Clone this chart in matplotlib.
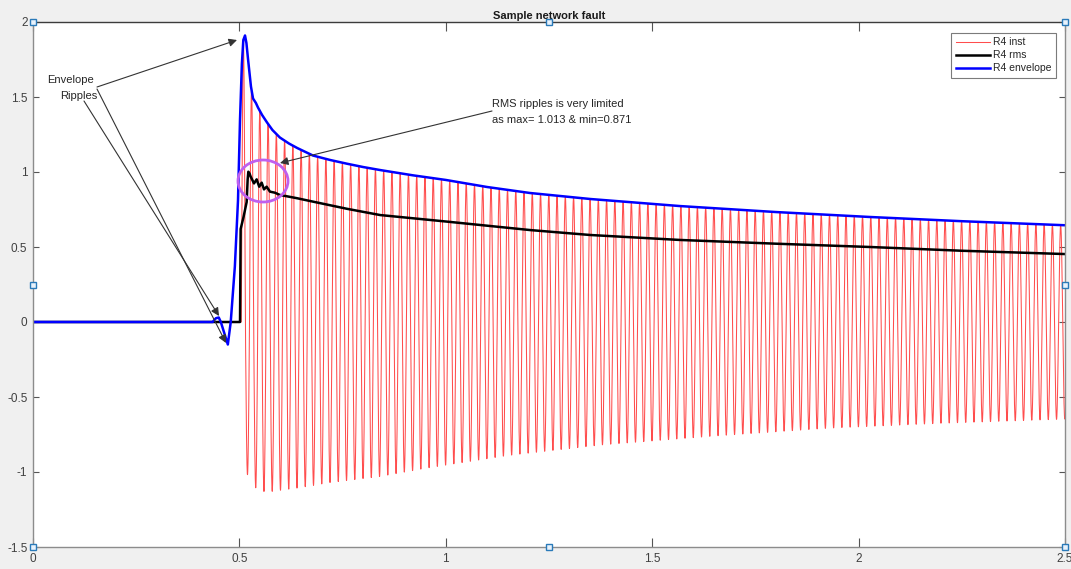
import numpy as np
import matplotlib
matplotlib.use("Agg")
import matplotlib.pyplot as plt
from matplotlib.patches import Ellipse

plt.rcParams['font.family'] = ['Liberation Sans', 'DejaVu Sans']

# ---------------- data ----------------
TITLE = "Sample network fault"
SERIES_LABELS = ["R4 inst", "R4 rms", "R4 envelope"]

# envelope (blue)
env_t = [0.0, 0.435, 0.443, 0.450, 0.455, 0.472, 0.479, 0.489, 0.4966, 0.5015,
         0.506, 0.5095, 0.5136, 0.517, 0.521, 0.528, 0.533, 0.540, 0.545, 0.555,
         0.567, 0.580, 0.598, 0.620, 0.640, 0.678, 0.72, 0.761, 0.80, 0.841,
         0.92, 1.0, 1.1, 1.204, 1.35, 1.567, 1.8, 2.028, 2.25, 2.5]
env_v = [0.0, 0.0, 0.025, 0.03, 0.0, -0.15, 0.0, 0.37, 0.81, 1.35,
         1.72, 1.88, 1.91, 1.86, 1.75, 1.57, 1.49, 1.46, 1.43, 1.38,
         1.33, 1.28, 1.23, 1.19, 1.16, 1.11, 1.08, 1.055, 1.033, 1.013,
         0.978, 0.947, 0.90, 0.86, 0.82, 0.773, 0.733, 0.70, 0.672, 0.645]

# rms (black)
rms_t = [0.0, 0.5015, 0.503, 0.510, 0.5176, 0.520, 0.5216, 0.5245, 0.5273, 0.5354,
         0.5418, 0.548, 0.554, 0.5596, 0.566, 0.574, 0.586, 0.598, 0.64, 0.679,
         0.76, 0.841, 1.0, 1.204, 1.35, 1.567, 1.8, 2.028, 2.25, 2.5]
rms_v = [0.0, 0.0, 0.62, 0.70, 0.80, 0.95, 1.002, 0.99, 0.969, 0.924,
         0.951, 0.902, 0.929, 0.884, 0.902, 0.869, 0.862, 0.847, 0.825, 0.802,
         0.755, 0.713, 0.67, 0.613, 0.58, 0.547, 0.522, 0.50, 0.475, 0.453]

# instantaneous signal (red): negative peak envelope; positive peaks follow env
trough_t = [0.50, 0.516, 0.536, 0.556, 0.576, 0.640, 0.720, 0.840, 0.962, 1.15,
            1.374, 1.65, 1.93, 2.2, 2.5]
trough_v = [-1.0, -1.0, -1.10, -1.13, -1.13, -1.107, -1.07, -1.03, -0.97, -0.89,
            -0.82, -0.76, -0.707, -0.675, -0.647]
F_HZ = 50.0          # system frequency
PEAK_T0 = 0.5095     # time of first positive peak
FAULT_T = 0.5045     # fault inception (zero crossing)

# ---------------- figure ----------------
fig = plt.figure(figsize=(10.71, 5.69), dpi=100, facecolor='#f0f0f0')
ax = fig.add_axes([33/1071, 1-547/569, (1065-33)/1071, (547-22)/569])
ax.set_facecolor('white')

t = np.linspace(0, 2.5, 50001)
car = np.cos(2*np.pi*F_HZ*(t - PEAK_T0))
up = np.interp(t, env_t, env_v)
lo = np.interp(t, trough_t, trough_v)
inst = np.where(car >= 0, up*car, -lo*car)
inst[t < FAULT_T] = 0.0

ax.plot(t, inst, color='#ff4d4d', lw=0.75, label=SERIES_LABELS[0])
ax.plot(rms_t, rms_v, color='black', lw=1.8, label=SERIES_LABELS[1])
ax.plot(env_t, env_v, color='#0000ff', lw=1.8, label=SERIES_LABELS[2])

ax.set_xlim(0, 2.5)
ax.set_ylim(-1.5, 2)
ax.set_xticks([0, 0.5, 1, 1.5, 2, 2.5])
ax.set_xticklabels(['0', '0.5', '1', '1.5', '2', '2.5'])
ax.set_yticks([-1.5, -1, -0.5, 0, 0.5, 1, 1.5, 2])
ax.set_yticklabels(['-1.5', '-1', '-0.5', '0', '0.5', '1', '1.5', '2'])
ax.tick_params(axis='x', direction='in', length=6.5, width=0.8, color='#555555',
               labelsize=8.5, labelcolor='#404040', pad=4, top=True)
ax.tick_params(axis='y', direction='in', length=4, width=0.8, color='#555555',
               labelsize=8.5, labelcolor='#404040', pad=4, right=True)
for s in ['left', 'bottom', 'right']:
    ax.spines[s].set_color('#8c8c8c')
    ax.spines[s].set_linewidth(1.0)
ax.spines['top'].set_color('#3c3c3c')
ax.spines['top'].set_linewidth(1.0)

ax.set_title(TITLE, fontsize=8, fontweight='bold', color='#1a1a1a', pad=2)

leg = ax.legend(loc='upper right', bbox_to_anchor=(0.991, 0.979), fontsize=7.5,
                frameon=True, fancybox=False, edgecolor='#5a5a5a',
                handlelength=3.3, handletextpad=0.3, labelspacing=0.3,
                borderpad=0.4, borderaxespad=0)
leg.get_frame().set_linewidth(0.8)
for txt in leg.get_texts():
    txt.set_color('#262626')

# ---------------- annotations ----------------
def px2d(px, py):
    return ((px - 33) / 412.8, (322 - py) / 150.0)

aprops = dict(arrowstyle='-|>', color='#333333', lw=0.8, mutation_scale=12,
              shrinkA=0, shrinkB=0)
ax.text(*px2d(71, 80), "Envelope", fontsize=8, color='#262626',
        ha='center', va='center')
ax.text(*px2d(79, 96), "Ripples", fontsize=8, color='#262626',
        ha='center', va='center')
ax.annotate("", xy=px2d(237, 40), xytext=px2d(97, 87), arrowprops=aprops)
ax.annotate("", xy=px2d(226, 343), xytext=px2d(97, 89), arrowprops=aprops)
ax.annotate("", xy=px2d(219, 316), xytext=px2d(84, 101), arrowprops=aprops)

ax.text(*px2d(492, 104), "RMS ripples is very limited", fontsize=8,
        color='#262626', ha='left', va='center')
ax.text(*px2d(492, 120), "as max= 1.013 & min=0.871", fontsize=8,
        color='#262626', ha='left', va='center')
ax.annotate("", xy=px2d(280, 163), xytext=px2d(492, 111), arrowprops=aprops)

ex, ey = px2d(263, 181)
ax.add_patch(Ellipse((ex, ey), 50/412.8, 42/150.0, fill=False,
                     edgecolor='#bf5fef', lw=2, zorder=5))

# selection handles
hx = [0, 1.25, 2.5, 0, 2.5, 0, 1.25, 2.5]
hy = [2, 2, 2, 0.25, 0.25, -1.5, -1.5, -1.5]
ax.plot(hx, hy, ls='none', marker='s', ms=4.5, mfc='#e8f2fc', mec='#2a7ab9',
        mew=1.0, clip_on=False, zorder=10)

fig.savefig("out.png", dpi=100, facecolor=fig.get_facecolor())
